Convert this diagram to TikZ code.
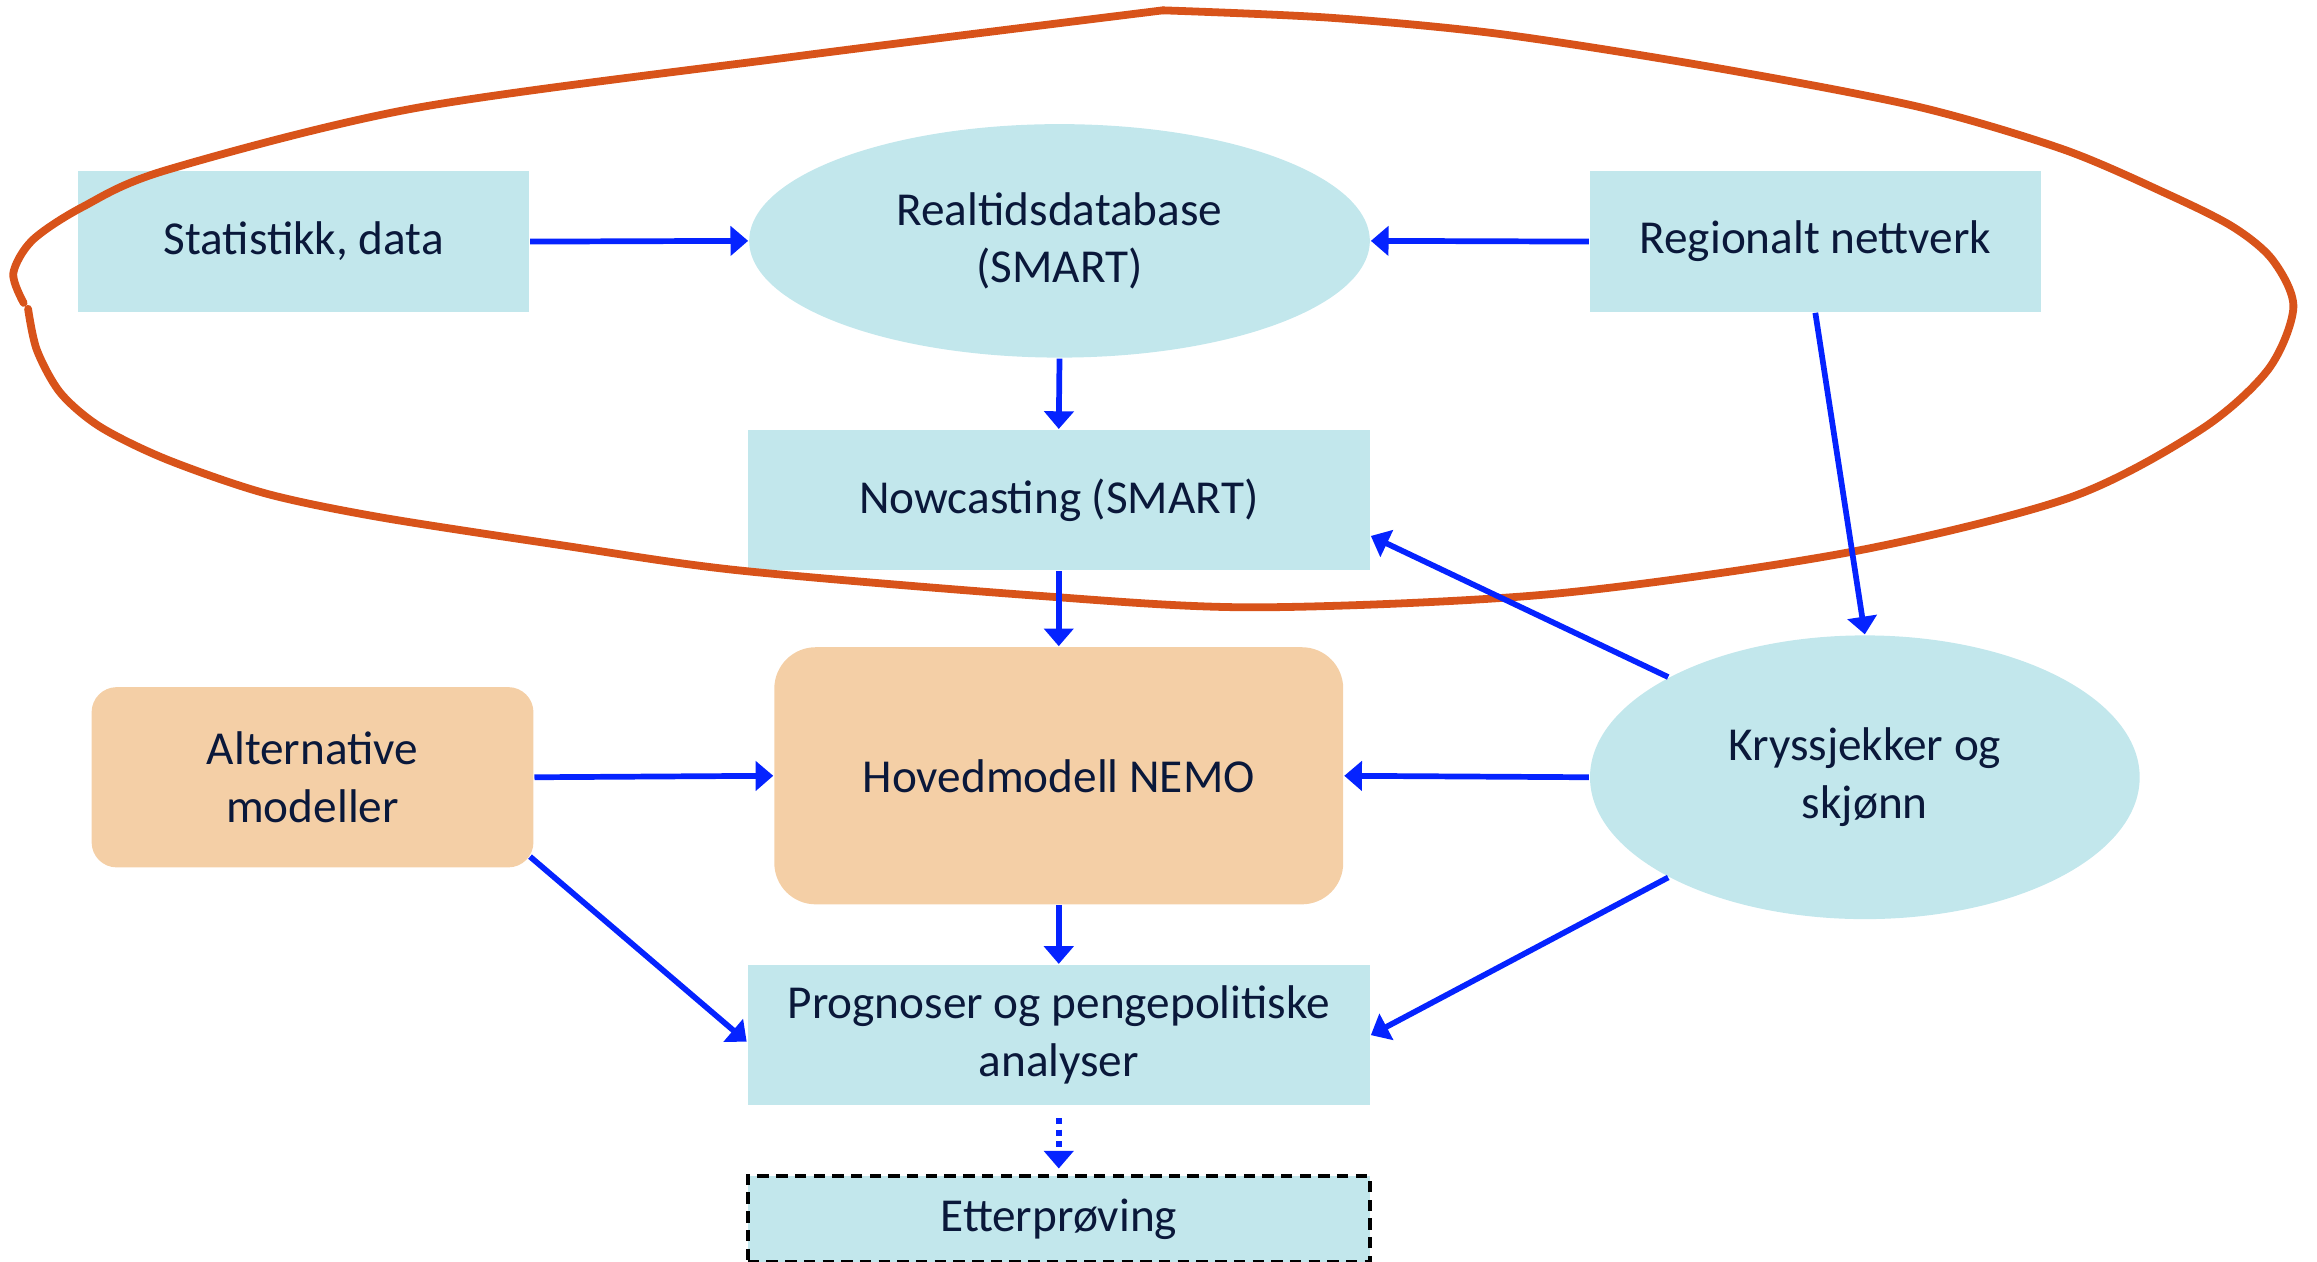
\documentclass[tikz,border=0pt]{standalone}
\usepackage{fontspec}
\setmainfont{Carlito}
\usetikzlibrary{shapes.geometric,arrows.meta}
\definecolor{boxblue}{RGB}{194,231,236}
\definecolor{boxorange}{RGB}{244,207,166}
\definecolor{loopred}{RGB}{216,83,26}
\definecolor{flowblue}{RGB}{5,35,255}
\definecolor{textnavy}{RGB}{10,24,58}

\begin{document}
\begin{tikzpicture}[
    every node/.style={font=\fontsize{9.1}{11.1}\selectfont, text=textnavy, align=center},
    databox/.style={rectangle, fill=boxblue, minimum width=3.05cm, minimum height=0.95cm, inner sep=0pt},
    dataell/.style={ellipse, fill=boxblue, inner sep=0pt},
    modelbox/.style={rectangle, fill=boxorange, inner sep=0pt},
    flow/.style={draw=flowblue, line width=1.1pt, -{Triangle[length=3.4pt,width=5.6pt]}},
    loopline/.style={draw=loopred, line width=1.5pt, line cap=round, line join=round}
  ]
    \useasboundingbox (0,0) rectangle (15.68,8.54);

    % noder
    \node[databox] (stat) at (2.055,6.905) {Statistikk, data};
    \node[dataell, minimum width=4.2cm, minimum height=1.58cm] (rtdb) at (7.17,6.91) {Realtidsdatabase\\(SMART)};
    \node[databox] (regnet) at (12.285,6.905) {Regionalt nettverk};
    \node[databox, minimum width=4.21cm] (nowc) at (7.165,5.155) {Nowcasting (SMART)};
    \node[modelbox, rounded corners=0.17cm, minimum width=2.99cm, minimum height=1.22cm] (altmod) at (2.115,3.28) {Alternative\\modeller};
    \node[modelbox, rounded corners=0.28cm, minimum width=3.85cm, minimum height=1.74cm] (nemo) at (7.165,3.29) {Hovedmodell NEMO};
    \node[dataell, minimum width=3.72cm, minimum height=1.92cm] (kryss) at (12.62,3.28) {Kryssjekker og\\skjønn};
    \node[databox, minimum width=4.21cm] (prog) at (7.165,1.535) {Prognoser og pengepolitiske\\analyser};
    \node[databox, minimum width=4.21cm, minimum height=0.58cm, draw=black, line width=0.7pt, dash pattern=on 2.2pt off 1.4pt] (etter) at (7.165,0.29) {Etterprøving};

    % sløyfe
    \draw[loopline] plot[smooth, tension=0.5] coordinates {(7.87,8.47) (5.40,8.16) (2.82,7.81) (1.13,7.39) (0.56,7.14) (0.22,6.915) (0.09,6.69) (0.16,6.49)};
    \draw[loopline] plot[smooth, tension=0.5] coordinates {(0.19,6.45) (0.25,6.17) (0.41,5.88) (0.68,5.65) (1.13,5.43) (1.80,5.20) (2.57,5.04) (3.80,4.85) (5.00,4.68) (7.00,4.51) (8.50,4.43) (10.50,4.52) (12.50,4.80) (14.00,5.17) (14.89,5.63) (15.35,6.04) (15.52,6.46) (15.38,6.78) (15.11,7.005) (14.66,7.23) (13.96,7.53) (12.97,7.82) (11.56,8.09) (10.15,8.31) (9.00,8.42) (7.87,8.47)};

    % piler
    \draw[flow] (stat.east) -- (rtdb.west);
    \draw[flow] (regnet.west) -- (rtdb.east);
    \draw[flow] (rtdb.south) -- (nowc.north);
    \draw[flow] (nowc.south) -- (nemo.north);
    \draw[flow] (regnet.south) -- (kryss.north);
    \draw[flow] (kryss.153) -- ([yshift=0.24cm]nowc.south east);
    \draw[flow] (kryss.west) -- (nemo.east);
    \draw[flow] (kryss.207) -- (prog.east);
    \draw[flow] (altmod.east) -- (nemo.west);
    \draw[flow] ([shift={(-0.03,0.08)}]altmod.south east) -- ([yshift=-0.045cm]prog.west);
    \draw[flow] (nemo.south) -- (prog.north);
    \draw[flow, dash pattern=on 1.2pt off 1pt] ([yshift=-0.08cm]prog.south) -- ([yshift=0.04cm]etter.north);
  \end{tikzpicture}
\end{document}
